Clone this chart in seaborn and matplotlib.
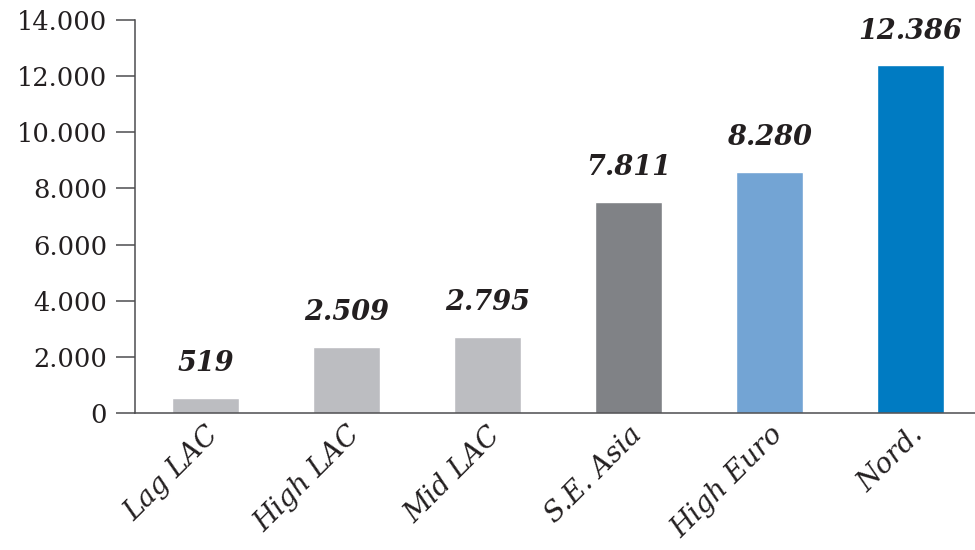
import matplotlib.pyplot as plt
from matplotlib import ticker
import seaborn as sns
import pandas as pd
import numpy as np

""" 0. Data """
regions = ["Lag LAC", "High LAC", "Mid LAC", "S.E. Asia", "High Euro", "Nord."]
bar_heights = [550, 2360, 2720, 7530, 8590, 12400]
value_labels = ["519", "2.509", "2.795", "7.811", "8.280", "12.386"]
y_ticks = [0, 2000, 4000, 6000, 8000, 10000, 12000, 14000]
y_ticklabels = ["0", "2.000", "4.000", "6.000", "8.000", "10.000", "12.000", "14.000"]
bar_colors = ["#BCBDC1", "#BCBDC1", "#BCBDC1", "#808286", "#73A4D4", "#007BC2"]

df = pd.DataFrame({"region": regions, "value": bar_heights})

""" 1. Plot """
sns.set_style("white")
plt.rcParams['font.family'] = ['DejaVu Serif']
axis_col = "#4d4d4f"

fig = plt.figure(figsize=(9.75, 5.5), dpi=100)
ax = fig.add_axes([135 / 975, 1 - 413 / 550, 1 - 135 / 975, (413 - 20) / 550])

sns.barplot(data=df, x="region", y="value", hue="region", palette=bar_colors,
            width=0.475, legend=False, ax=ax, saturation=1)

# value labels above the bars
for i, (h, lab) in enumerate(zip(bar_heights, value_labels)):
    ax.annotate(lab, (i, h), xytext=(0, 19), textcoords="offset points",
                ha="center", va="baseline", fontsize=19.5, fontweight="bold",
                fontstyle="italic", color="#231f20")

ax.set_ylim(0, 14000)
ax.set_xlim(-0.5, 5.46)
ax.set_yticks(y_ticks)
ax.set_yticklabels(y_ticklabels, fontsize=18.5, color="#231f20")
ax.set_xticks(range(len(regions)))
ax.set_xticklabels(regions, rotation=45, ha="right", rotation_mode="anchor",
                   fontsize=20, fontstyle="italic", color="#231f20")
ax.set_xlabel("")
ax.set_ylabel("")

# boundary tick marks between categories
ax.xaxis.set_minor_locator(ticker.FixedLocator(np.arange(-0.5, len(regions), 1.0)))
ax.tick_params(axis="x", which="major", length=0, pad=6)
ax.tick_params(axis="x", which="minor", length=12.5, width=1.1, color=axis_col, direction="out")
ax.tick_params(axis="y", which="major", length=14, width=1.1, color=axis_col, pad=6, left=True)

for side in ["top", "right"]:
    ax.spines[side].set_visible(False)
for side in ["left", "bottom"]:
    ax.spines[side].set_color(axis_col)
    ax.spines[side].set_linewidth(1.1)

plt.savefig("out.png", dpi=100)
